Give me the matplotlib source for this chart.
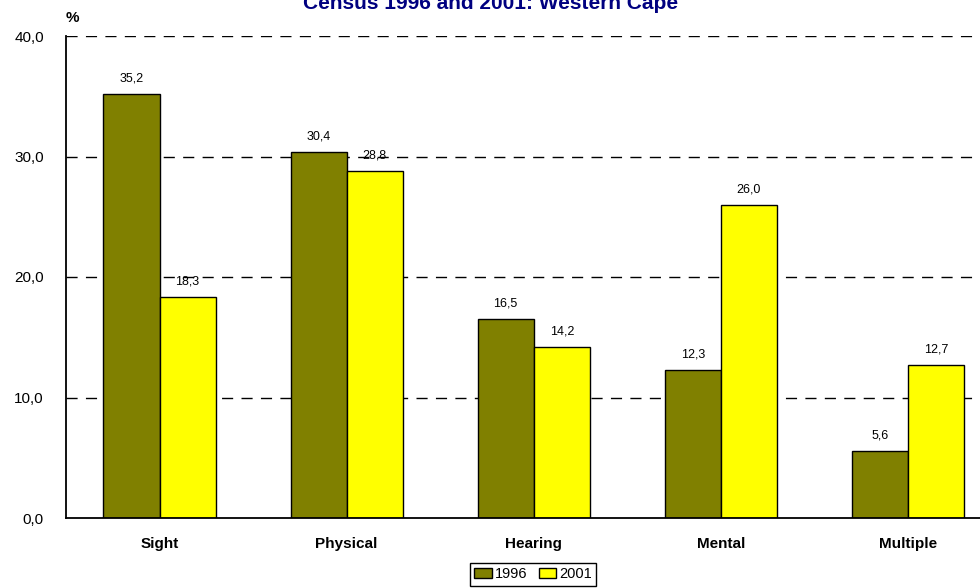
import matplotlib
matplotlib.use("Agg")
import matplotlib.pyplot as plt
import numpy as np

plt.rcParams['font.family'] = ['Liberation Sans', 'DejaVu Sans']

categories = ["Sight", "Physical", "Hearing", "Mental", "Multiple"]
vals_1996 = [35.2, 30.4, 16.5, 12.3, 5.6]
vals_2001 = [18.3, 28.8, 14.2, 26.0, 12.7]
yticks = [0, 10, 20, 30, 40]

OLIVE = "#808000"
YELLOW = "#FFFF00"
W, H = 980, 588

fig = plt.figure(figsize=(W / 100, H / 100), dpi=100)
ax = fig.add_axes([66 / W, 70 / H, (1001.5 - 66) / W, 482 / H])

x = np.arange(len(categories))
bw = 0.3
b1 = ax.bar(x - bw / 2, vals_1996, bw, color=OLIVE, edgecolor="black", linewidth=1, zorder=3, label="1996")
b2 = ax.bar(x + bw / 2, vals_2001, bw, color=YELLOW, edgecolor="black", linewidth=1, zorder=3, label="2001")

# value labels above each bar, decimal comma as in the source
for bars, vals in ((b1, vals_1996), (b2, vals_2001)):
    for r, v in zip(bars, vals):
        ax.annotate(f"{v:.1f}".replace(".", ","), (r.get_x() + r.get_width() / 2, v),
                    xytext=(0, 9), textcoords="offset points", ha="center", va="baseline",
                    fontsize=9, zorder=4)

ax.set_xlim(-0.5, 4.5)
ax.set_ylim(0, 40)
ax.set_yticks(yticks)
ax.set_yticklabels([f"{t:.1f}".replace(".", ",") for t in yticks], fontsize=11)
ax.set_xticks(x)
ax.set_xticklabels(categories, fontsize=11, fontweight="bold")
ax.tick_params(axis="y", length=0, pad=16)
ax.tick_params(axis="x", length=0, pad=14)

for t in [10, 20, 30, 40]:
    ax.axhline(t, color="black", lw=1, ls=(0, (8, 6)), zorder=1)

for s in ("top", "right"):
    ax.spines[s].set_visible(False)
ax.spines["left"].set_linewidth(1.3)
ax.spines["bottom"].set_linewidth(1.3)
ax.spines["bottom"].set_zorder(5)

fig.text(72 / W, 1 - 18 / H, "%", fontsize=11, fontweight="bold", ha="center", va="center")
# title sits partly above the figure edge, as in the reference
fig.text(491 / W, 1 - 9 / H, "Census 1996 and 2001: Western Cape", fontsize=15,
         fontweight="bold", color="#000080", ha="center", va="baseline")

leg = fig.legend(handles=[b1, b2], labels=["1996", "2001"], loc="upper center",
                 bbox_to_anchor=(533 / W, 1 - 563 / H), ncol=2, fontsize=10.5,
                 frameon=True, fancybox=False, framealpha=1, edgecolor="black",
                 handlelength=1.2, handleheight=0.7, handletextpad=0.2,
                 columnspacing=0.8, borderpad=0.3, borderaxespad=0)
leg.get_frame().set_linewidth(1)

fig.savefig("out.png", dpi=100)
